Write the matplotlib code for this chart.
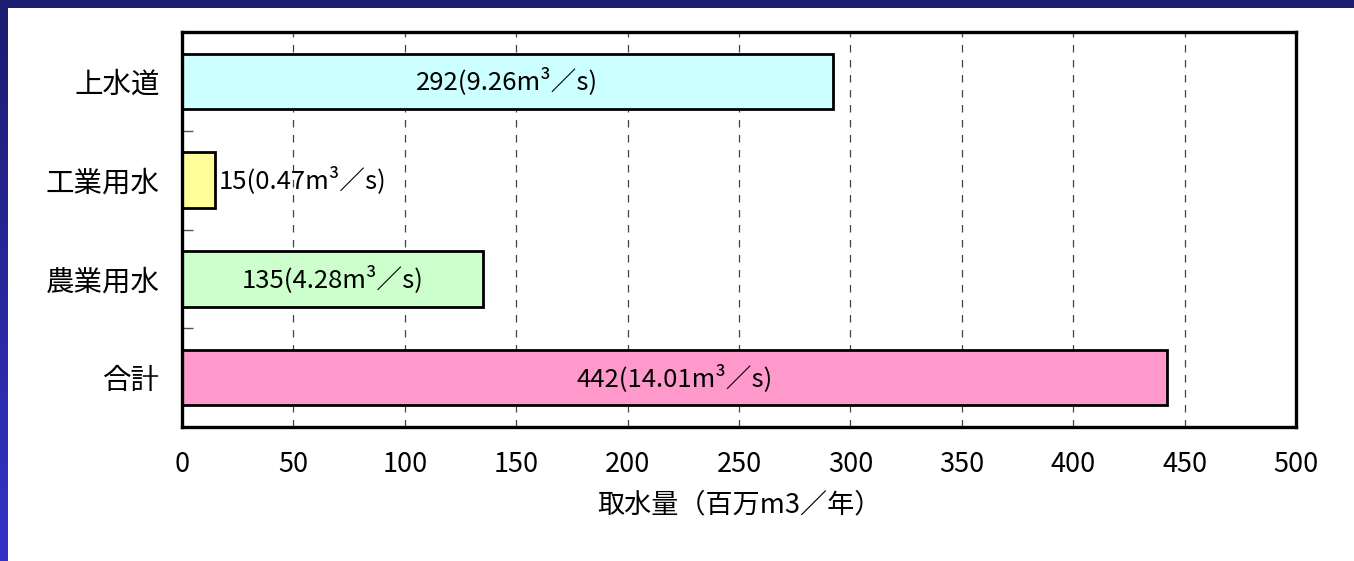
import matplotlib
matplotlib.use("Agg")
import matplotlib.pyplot as plt
from matplotlib.ticker import FixedLocator
import numpy as np

plt.rcParams['font.family'] = ['Noto Sans CJK JP', 'DejaVu Sans']

# データ
categories = ["上水道", "工業用水", "農業用水", "合計"]
values = [292, 15, 135, 442]
flows = ["9.26", "0.47", "4.28", "14.01"]
colors = ["#CCFFFF", "#FFFF99", "#CCFFCC", "#FF99CC"]
xticks = [0, 50, 100, 150, 200, 250, 300, 350, 400, 450, 500]

W, H = 1354, 561
fig = plt.figure(figsize=(W / 100, H / 100), dpi=100)
fig.patch.set_facecolor("white")

# 青い枠（上と左）
top = fig.add_axes([0, 1 - 8 / H, 1, 8 / H])
top.set_facecolor("#1c1c70")
top.set_xticks([]); top.set_yticks([])
for s in top.spines.values():
    s.set_visible(False)
left = fig.add_axes([0, 0, 8 / W, 1 - 8 / H])
grad = np.linspace(0, 1, 256).reshape(-1, 1)
c0 = np.array([0x1c, 0x1c, 0x70]) / 255
c1 = np.array([0x33, 0x33, 0xc8]) / 255
img = c0 + (c1 - c0) * grad[:, :, None]
left.imshow(img, aspect="auto", extent=[0, 1, 0, 1])
left.axis("off")

ax = fig.add_axes([182 / W, 1 - 427 / H, (1296 - 182) / W, (427 - 32) / H])
y = np.arange(len(categories))
ax.barh(y, values, height=0.56, color=colors, edgecolor="black", linewidth=2.0, zorder=3)

ax.set_xlim(0, 500)
ax.set_ylim(len(categories) - 0.5, -0.5)
ax.set_xticks(xticks)
ax.set_xticklabels([str(t) for t in xticks], fontsize=19.5)
ax.set_yticks(y)
ax.set_yticklabels(categories, fontsize=20.5)
ax.yaxis.set_minor_locator(FixedLocator([0.5, 1.5, 2.5]))
ax.tick_params(axis="y", which="major", length=0, pad=16)
ax.tick_params(axis="y", which="minor", length=8, direction="in", color="#555555", width=1)
ax.tick_params(axis="x", which="major", length=0, pad=17)
ax.grid(axis="x", linestyle=(0, (6, 6)), color="#444444", linewidth=0.9, zorder=1)
for s in ax.spines.values():
    s.set_linewidth(2.4)
    s.set_zorder(4)

for i, (v, f) in enumerate(zip(values, flows)):
    label = f"{v}({f}m³／s)"
    if v < 50:
        ax.text(v + 1.5, i, label, ha="left", va="center", fontsize=18.5, zorder=5)
    else:
        ax.text(v / 2, i, label, ha="center", va="center", fontsize=18.5, zorder=5)

ax.set_xlabel("取水量（百万m3／年）", fontsize=19.5, labelpad=10)

fig.savefig("out.png", dpi=100)
